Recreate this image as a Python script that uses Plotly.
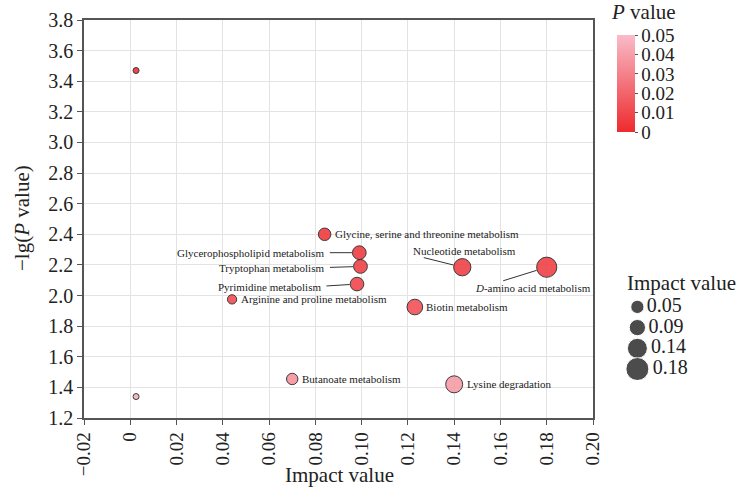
import plotly.graph_objects as go

# Pathway enrichment results
pathways = [
    "",
    "Glycine, serine and threonine metabolism",
    "Glycerophospholipid metabolism",
    "Tryptophan metabolism",
    "Pyrimidine metabolism",
    "Arginine and proline metabolism",
    "Nucleotide metabolism",
    "<i>D</i>-amino acid metabolism",
    "Biotin metabolism",
    "Butanoate metabolism",
    "Lysine degradation",
    "",
]
impact = [0.0025, 0.084, 0.099, 0.0995, 0.098, 0.044, 0.1435, 0.180, 0.123, 0.070, 0.140, 0.0025]
neg_log_p = [3.47, 2.40, 2.28, 2.19, 2.075, 1.975, 2.185, 2.185, 1.925, 1.455, 1.42, 1.34]
p_values = [10 ** (-v) for v in neg_log_p]

legend_impacts = [0.05, 0.09, 0.14, 0.18]
legend_labels = ["0.05", "0.09", "0.14", "0.18"]

x_ticks = [-0.02, 0, 0.02, 0.04, 0.06, 0.08, 0.10, 0.12, 0.14, 0.16, 0.18, 0.20]
x_tick_labels = ["\u22120.02", "0", "0.02", "0.04", "0.06", "0.08", "0.10",
                 "0.12", "0.14", "0.16", "0.18", "0.20"]
cbar_ticks = [0, 0.01, 0.02, 0.03, 0.04, 0.05]
cbar_labels = ["0", "0.01", "0.02", "0.03", "0.04", "0.05"]

FONT = "Liberation Serif, Times New Roman, serif"
COLORSCALE = [[0, "#ee2a2e"], [1, "#f9bcc8"]]


def diameter(v):
    return 5.8 + 80 * v


def key_diameter(v):
    return 9.5 + 75 * v


sizes = [diameter(v) for v in impact]

# label placement: (mode, xshift, yshift, arrow tail dx, arrow tail dy)
label_style = {
    1: ("right", 8, 0, None, None),
    2: ("left", -33, 0, -31, 0),
    3: ("left", -34, -1.5, -32, 1),
    4: ("left", -34, -3, -32, 2),
    5: ("right", 7, 0, None, None),
    6: ("center", 2, 16, -40, -10),
    7: ("center", -14, -21, -45, 14),
    8: ("right", 9, 0, None, None),
    9: ("right", 8, 0, None, None),
    10: ("right", 11, 0, None, None),
}

fig = go.Figure()

fig.add_trace(go.Scatter(
    x=impact, y=neg_log_p, mode="markers",
    marker=dict(
        size=sizes, color=p_values, cmin=0, cmax=0.05,
        colorscale=COLORSCALE, opacity=0.88,
        line=dict(color="#222222", width=1),
        colorbar=dict(
            x=0.8225, xanchor="left", xpad=0, y=0.962, yanchor="top",
            len=0.244, lenmode="fraction", thickness=18, ypad=0,
            outlinewidth=0, tickvals=cbar_ticks, ticktext=cbar_labels,
            ticks="outside", ticklen=3, tickcolor="#555",
            tickfont=dict(family=FONT, size=19, color="#222"),
        ),
    ),
    showlegend=False, hoverinfo="skip",
))

# size key drawn on its own hidden axes
fig.add_trace(go.Scatter(
    x=[0.27] * len(legend_impacts), y=list(range(len(legend_impacts))),
    mode="markers+text", text=legend_labels, textposition="middle right",
    textfont=dict(family=FONT, size=20, color="#222"),
    marker=dict(size=[key_diameter(v) for v in legend_impacts], color="black"),
    xaxis="x2", yaxis="y2", showlegend=False, hoverinfo="skip",
))

annotations = []
for i, (mode, xs, ys, tdx, tdy) in label_style.items():
    r = sizes[i] / 2
    anchor = {"right": "left", "left": "right", "center": "center"}[mode]
    annotations.append(dict(
        x=impact[i], y=neg_log_p[i], xref="x", yref="y", text=pathways[i],
        showarrow=False, xanchor=anchor, yanchor="middle",
        xshift=xs, yshift=ys, font=dict(family=FONT, size=11, color="#222"),
    ))
    if tdx is not None:
        annotations.append(dict(
            x=impact[i], y=neg_log_p[i], xref="x", yref="y", text="",
            showarrow=True, arrowhead=0, arrowwidth=1, arrowcolor="#333",
            ax=tdx, ay=tdy, standoff=r + 0.5,
        ))

annotations += [
    dict(text="Impact value", x=0.395, y=-0.142, xref="paper", yref="paper",
         showarrow=False, xanchor="center", yanchor="middle",
         font=dict(family=FONT, size=21, color="#222")),
    dict(text="\u2212lg(<i>P</i> value)", x=-0.0957, y=0.5025, xref="paper",
         yref="paper", showarrow=False, textangle=-90, xanchor="center",
         yanchor="middle", font=dict(family=FONT, size=21, color="#222")),
    dict(text="Impact value", x=0.9228, y=0.338, xref="paper", yref="paper",
         showarrow=False, xanchor="center", yanchor="middle",
         font=dict(family=FONT, size=21, color="#222")),
    dict(text="<i>P</i> value", x=0.8102, y=1.0201, xref="paper", yref="paper",
         showarrow=False, xanchor="left", yanchor="middle",
         font=dict(family=FONT, size=21, color="#222")),
]

axis_common = dict(
    showgrid=True, gridcolor="#e3e3e3", gridwidth=1, zeroline=False,
    showline=True, linecolor="#555", linewidth=1.5, mirror=True,
    ticks="outside", ticklen=5, tickcolor="#555", automargin=False,
)

fig.update_layout(
    width=742, height=487,
    margin=dict(l=84, r=10, t=20, b=69, autoexpand=False),
    paper_bgcolor="white", plot_bgcolor="white",
    font=dict(family=FONT, color="#222"),
    xaxis=dict(domain=[0, 0.78549], range=[-0.02, 0.20], tickvals=x_ticks,
               ticktext=x_tick_labels, tickangle=-90,
               tickfont=dict(family=FONT, size=19, color="#222"),
               **axis_common),
    yaxis=dict(range=[1.2, 3.8], dtick=0.2, tick0=1.2, tickformat=".1f",
               tickfont=dict(family=FONT, size=20, color="#222"),
               **axis_common),
    xaxis2=dict(domain=[0.8, 1.0], range=[0, 1], visible=False,
                anchor="y2"),
    yaxis2=dict(domain=[0.0955, 0.347], range=[3.53, -1.304], visible=False,
                anchor="x2"),
    annotations=annotations,
)

fig.write_html("out.html")
